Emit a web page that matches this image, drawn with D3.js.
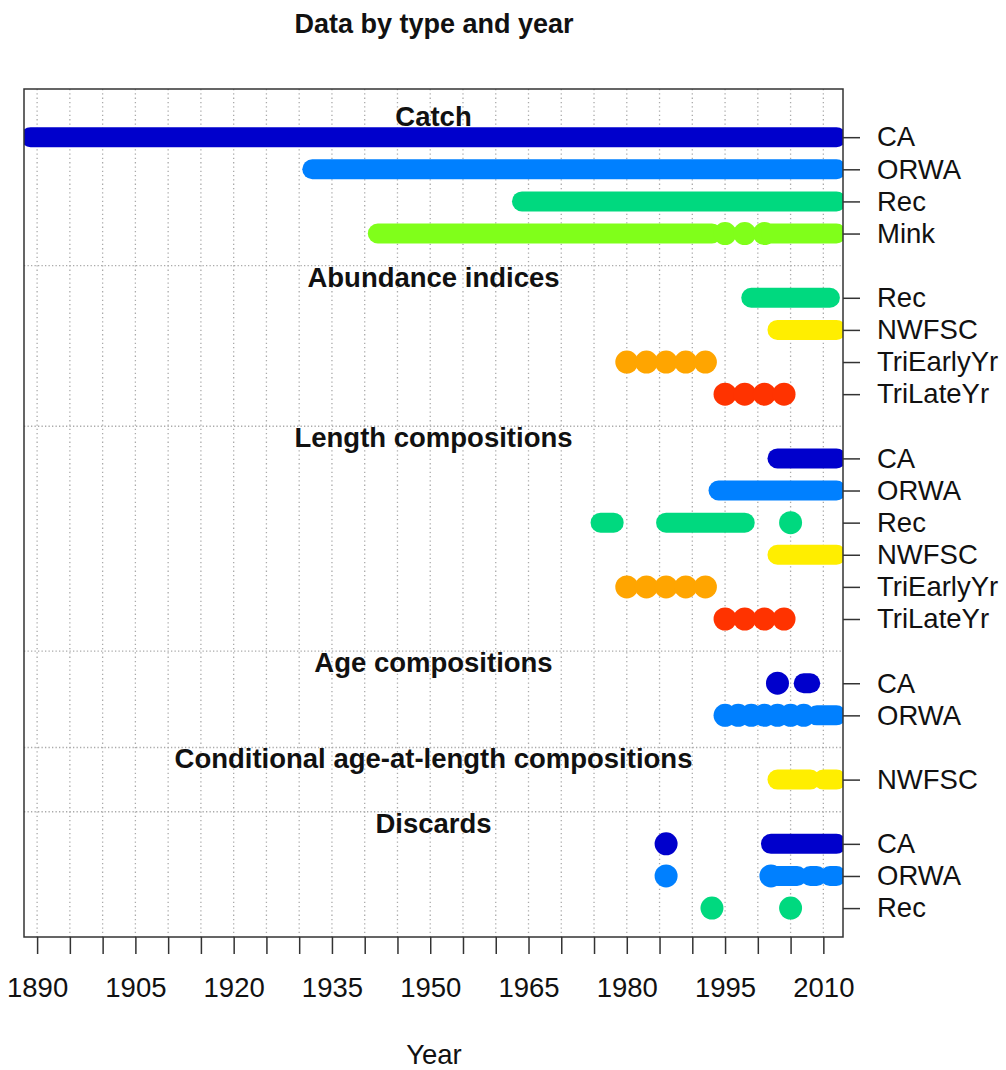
<!DOCTYPE html>
<html>
<head>
<meta charset="utf-8">
<script src="https://cdn.jsdelivr.net/npm/d3@7/dist/d3.min.js"></script>
<style>
  body { margin: 0; background: #fff; }
  svg { display: block; font-family: "Liberation Sans", Arial, sans-serif; }
</style>
</head>
<body>
<div id="chart"></div>
<script>
// --- data ---
const groupTitles = ["Catch", "Abundance indices", "Length compositions", "Age compositions",
  "Conditional age-at-length compositions", "Discards"];

const fleetNames  = ["CA", "ORWA", "Rec", "Mink", "NWFSC", "TriEarlyYr", "TriLateYr"];
const fleetColors = ["#0000CC", "#0080FF", "#00D97F", "#80FF1A", "#FFEE00", "#FFA500", "#FF3300"];

// each row: fleet name + runs of consecutive years [first, last]
const catchRows = [
  ["CA",   [[1889, 2012]]],
  ["ORWA", [[1932, 2012]]],
  ["Rec",  [[1964, 2012]]],
  ["Mink", [[1942, 1993], [1995, 1995], [1998, 1998], [2001, 2001], [2002, 2012]]]
];
const indexRows = [
  ["Rec",        [[1999, 2011]]],
  ["NWFSC",      [[2003, 2012]]],
  ["TriEarlyYr", [[1980, 1980], [1983, 1983], [1986, 1986], [1989, 1989], [1992, 1992]]],
  ["TriLateYr",  [[1995, 1995], [1998, 1998], [2001, 2001], [2004, 2004]]]
];
const lengthRows = [
  ["CA",         [[2003, 2012]]],
  ["ORWA",       [[1994, 2012]]],
  ["Rec",        [[1976, 1978], [1986, 1998], [2005, 2005]]],
  ["NWFSC",      [[2003, 2012]]],
  ["TriEarlyYr", [[1980, 1980], [1983, 1983], [1986, 1986], [1989, 1989], [1992, 1992]]],
  ["TriLateYr",  [[1995, 1995], [1998, 1998], [2001, 2001], [2004, 2004]]]
];
const ageRows = [
  ["CA",   [[2003, 2003], [2007, 2008]]],
  ["ORWA", [[1995, 1995], [1997, 1997], [1999, 1999], [2001, 2001], [2003, 2003],
            [2005, 2005], [2007, 2007], [2009, 2012]]]
];
const condAgeRows = [
  ["NWFSC", [[2003, 2008], [2010, 2012]]]
];
const discardRows = [
  ["CA",   [[1986, 1986], [2002, 2012]]],
  ["ORWA", [[1986, 1986], [2002, 2002], [2003, 2006], [2008, 2009], [2011, 2012]]],
  ["Rec",  [[1993, 1993], [2005, 2005]]]
];
const groupRows = [catchRows, indexRows, lengthRows, ageRows, condAgeRows, discardRows];

const tickYears  = [1890, 1895, 1900, 1905, 1910, 1915, 1920, 1925, 1930, 1935, 1940, 1945, 1950,
                    1955, 1960, 1965, 1970, 1975, 1980, 1985, 1990, 1995, 2000, 2005, 2010];
const labelYears = [1890, 1905, 1920, 1935, 1950, 1965, 1980, 1995, 2010];

// --- layout ---
const W = 1006, H = 1070;
const box = { left: 24, right: 843, top: 89, bottom: 937 };
const LINE_W = 20, DOT_R = 11.5;
const FS = 27.5;

const x = d3.scaleLinear().domain([1888, 2013]).range([box.left, box.right]);
const y = d3.scaleLinear().domain([-1.5, 24.9]).range([box.top, box.bottom]);

// row positions: one unit per row, one extra unit per group for its title
const rows = [], titles = [], seps = [];
let u = 0;
groupRows.forEach((g, gi) => {
  if (gi > 0) seps.push(u - 1);
  titles.push({ text: groupTitles[gi], u: u - 0.65 });
  g.forEach(([fleet, runs]) => {
    rows.push({ fleet, runs, u, color: fleetColors[fleetNames.indexOf(fleet)] });
    u++;
  });
  u++;
});

const svg = d3.select("#chart").append("svg")
  .attr("width", W).attr("height", H);

svg.append("clipPath").attr("id", "plotclip")
  .append("rect")
  .attr("x", box.left).attr("y", box.top)
  .attr("width", box.right - box.left).attr("height", box.bottom - box.top);

// grid
const grid = svg.append("g");
grid.selectAll("line.v").data(tickYears).join("line")
  .attr("x1", d => x(d)).attr("x2", d => x(d))
  .attr("y1", box.top).attr("y2", box.bottom)
  .attr("stroke", "#aaa").attr("stroke-width", 1.3)
  .attr("stroke-dasharray", "1.3,3");
grid.selectAll("line.h").data(seps).join("line")
  .attr("x1", box.left).attr("x2", box.right)
  .attr("y1", d => y(d)).attr("y2", d => y(d))
  .attr("stroke", "#aaa").attr("stroke-width", 1.3)
  .attr("stroke-dasharray", "1.3,2.2");

// marks
const marks = svg.append("g").attr("clip-path", "url(#plotclip)");
rows.forEach(r => {
  r.runs.forEach(([a, b]) => {
    if (a === b) {
      marks.append("circle")
        .attr("cx", x(a)).attr("cy", y(r.u)).attr("r", DOT_R)
        .attr("fill", r.color);
    } else {
      marks.append("line")
        .attr("x1", x(a)).attr("x2", x(b))
        .attr("y1", y(r.u)).attr("y2", y(r.u))
        .attr("stroke", r.color).attr("stroke-width", LINE_W)
        .attr("stroke-linecap", "round");
    }
  });
});

// group titles
svg.append("g").selectAll("text").data(titles).join("text")
  .attr("x", (box.left + box.right) / 2)
  .attr("y", d => y(d.u))
  .attr("dy", "0.35em")
  .attr("text-anchor", "middle")
  .attr("font-size", FS).attr("font-weight", "bold")
  .attr("fill", "#111")
  .text(d => d.text);

// plot box
svg.append("rect")
  .attr("x", box.left).attr("y", box.top)
  .attr("width", box.right - box.left).attr("height", box.bottom - box.top)
  .attr("fill", "none").attr("stroke", "#333").attr("stroke-width", 1.5);

// x axis
const xAxis = svg.append("g")
  .attr("transform", `translate(0,${box.bottom})`)
  .call(d3.axisBottom(x).tickValues(tickYears).tickSize(17).tickPadding(23)
    .tickFormat(d => labelYears.includes(d) ? d : ""));
xAxis.select(".domain").remove();
xAxis.selectAll("line").attr("stroke", "#333").attr("stroke-width", 1.5);
xAxis.selectAll("text").attr("font-size", FS).attr("font-family", null).attr("fill", "#111");

// right axis with row labels
const yAxis = svg.append("g")
  .attr("transform", `translate(${box.right},0)`)
  .call(d3.axisRight(y).tickValues(rows.map(r => r.u)).tickSize(17).tickPadding(17)
    .tickFormat(d => rows.find(r => r.u === d).fleet));
yAxis.select(".domain").remove();
yAxis.selectAll("line").attr("stroke", "#333").attr("stroke-width", 1.5);
yAxis.selectAll("text").attr("font-size", FS).attr("font-family", null).attr("fill", "#111");

// titles
svg.append("text")
  .attr("x", 434).attr("y", 33)
  .attr("text-anchor", "middle")
  .attr("font-size", 27).attr("font-weight", "bold").attr("fill", "#111")
  .text("Data by type and year");

svg.append("text")
  .attr("x", 434).attr("y", 1064)
  .attr("text-anchor", "middle")
  .attr("font-size", FS).attr("fill", "#111")
  .text("Year");
</script>
</body>
</html>
